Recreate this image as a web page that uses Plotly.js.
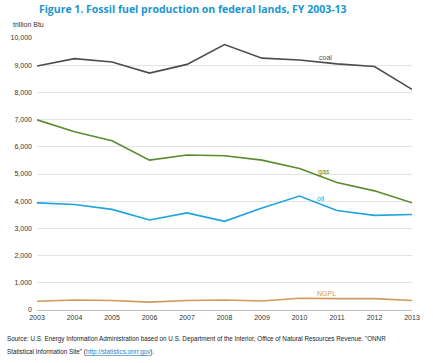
<!DOCTYPE html>
<html><head><meta charset="utf-8">
<script src="https://cdn.plot.ly/plotly-3.0.1.min.js"></script>
<style>html,body{margin:0;padding:0;background:#fff;}#chart{width:433px;height:363px;}</style>
</head><body><div id="chart"></div>
<script>
const years = [2003,2004,2005,2006,2007,2008,2009,2010,2011,2012,2013];
const coal = [8970,9240,9120,8710,9030,9760,9260,9190,9050,8950,8110];
const gas  = [6990,6550,6220,5510,5700,5670,5510,5200,4690,4380,3940];
const oil  = [3940,3880,3700,3310,3570,3260,3750,4190,3660,3480,3510];
const ngpl = [320,370,350,290,350,370,330,430,420,420,350];
const yTicks = [0,1000,2000,3000,4000,5000,6000,7000,8000,9000,10000];
const seriesNames = ['coal','gas','oil','NGPL'];
const seriesColors = ['#4d4d4f','#5b8a2f','#1ea5dc','#d09a5c'];
const labelPos = [[2010.68,9300],[2010.65,5080],[2010.55,4100],[2010.72,620]];

const allData = [coal,gas,oil,ngpl];
const traces = allData.map((d,i)=>({
  x: years, y: d, type:'scatter', mode:'lines', name: seriesNames[i],
  line:{color:seriesColors[i], width:1.6}, hoverinfo:'skip'
}));

const baseFont = 'Liberation Sans, Arial, sans-serif';
const annotations = seriesNames.map((n,i)=>({
  x: labelPos[i][0], y: labelPos[i][1], xref:'x', yref:'y', text:n, showarrow:false,
  font:{family:baseFont, size:7, color:seriesColors[i]}
}));
annotations.push({
  xref:'paper', yref:'paper', x:-0.068, y:1.03, xanchor:'left', yanchor:'bottom',
  text:'trillion Btu', showarrow:false,
  font:{family:baseFont, size:7, color:'#333'}
});
annotations.push({
  xref:'paper', yref:'paper', x:-0.085, y:-0.107, xanchor:'left', yanchor:'middle', align:'left',
  text:'Source: U.S. Energy Information Administration based on U.S. Department of the Interior, Office of Natural Resources Revenue. "ONNR',
  showarrow:false,
  font:{family:baseFont, size:6.3, color:'#222'}
});
annotations.push({
  xref:'paper', yref:'paper', x:-0.085, y:-0.154, xanchor:'left', yanchor:'middle', align:'left',
  text:'Statistical Information Site" (<span style="color:#1a7fc0;text-decoration:underline">http://statistics.onrr.gov</span>).',
  showarrow:false,
  font:{family:baseFont, size:6.3, color:'#222'}
});

const layout = {
  width:433, height:363,
  margin:{l:37, r:21, t:38, b:53},
  paper_bgcolor:'#fff', plot_bgcolor:'#fff',
  showlegend:false,
  title:{text:'<b>Figure 1. Fossil fuel production on federal lands, FY 2003-13</b>',
    x:0.005, xanchor:'left', xref:'paper', y:0.985, yanchor:'top',
    font:{family:'Open Sans, Liberation Sans, sans-serif', size:10.5, color:'#1a96d0'}},
  xaxis:{range:[2003,2013], tickvals:years, ticktext:years.map(String),
    showgrid:false, zeroline:false, showline:false, ticks:'', ticklabelstandoff:2,
    tickfont:{family:baseFont, size:7, color:'#333'}, fixedrange:true},
  yaxis:{range:[0,10000], tickvals:yTicks, ticktext:yTicks.map(v=>v.toLocaleString('en-US')),
    showgrid:true, gridcolor:'#e3e3e3', gridwidth:1, zeroline:true, zerolinecolor:'#bfbfbf', zerolinewidth:1,
    showline:false, ticks:'', ticklabelstandoff:4,
    tickfont:{family:baseFont, size:7, color:'#333'}, fixedrange:true},
  annotations: annotations
};
Plotly.newPlot('chart', traces, layout, {staticPlot:true, displayModeBar:false});
</script></body></html>
